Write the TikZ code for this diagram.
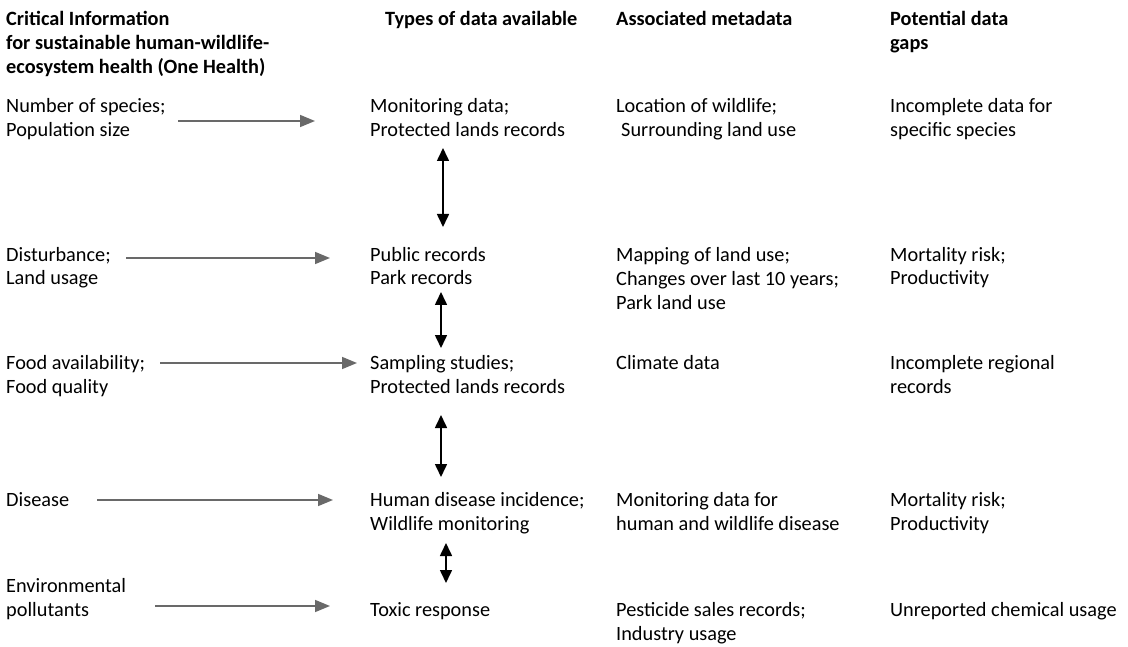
\documentclass[tikz,border=0pt]{standalone}
\usepackage{fontspec}
\setmainfont{Carlito}
\usetikzlibrary{arrows.meta}
\definecolor{flowGray}{RGB}{105,105,105}
\tikzset{
  txt/.style={anchor=base west, align=left, inner sep=0pt, font=\fontsize{20.3}{24}\selectfont},
  head/.style={txt, font=\fontsize{20.3}{24}\selectfont\bfseries},
  flow/.style={draw=flowGray, line width=1.6pt, -{Triangle[length=15pt,width=12pt]}},
  link/.style={draw=black, line width=1.6pt, {Triangle[length=13pt,width=12pt]}-{Triangle[length=13pt,width=12pt]}},
}

\begin{document}
\begin{tikzpicture}[x=1pt,y=-1pt]
\useasboundingbox (0,0) rectangle (1128,647);

% column headings (placed at the baseline of their last line)
\node [head] (headInfo) at (6,74) {Critical Information\\for sustainable human-wildlife-\\ecosystem health (One Health)};
\node [head] (headTypes) at (385,26) {Types of data available};
\node [head] (headMeta) at (616,26) {Associated metadata};
\node [head] (headGaps) at (890,50) {Potential data\\gaps};

% species
\node [txt] (infoSpecies) at (6,137) {Number of species;\\Population size};
\node [txt] (typeSpecies) at (370,137) {Monitoring data;\\Protected lands records};
\node [txt] (metaSpecies) at (616,137) {Location of wildlife;\\\hspace{5pt}Surrounding land use};
\node [txt] (gapSpecies) at (890,137) {Incomplete data for\\specific species};

% land
\node [txt] (infoLand) at (6,285) {Disturbance;\\Land usage};
\node [txt] (typeLand) at (370,285) {Public records\\Park records};
\node [txt] (metaLand) at (616,309) {Mapping of land use;\\Changes over last 10 years;\\Park land use};
\node [txt] (gapLand) at (890,285) {Mortality risk;\\Productivity};

% food
\node [txt] (infoFood) at (6,393) {Food availability;\\Food quality};
\node [txt] (typeFood) at (370,393) {Sampling studies;\\Protected lands records};
\node [txt] (metaFood) at (616,369) {Climate data};
\node [txt] (gapFood) at (890,393) {Incomplete regional\\records};

% disease
\node [txt] (infoDisease) at (6,506) {Disease};
\node [txt] (typeDisease) at (370,530) {Human disease incidence;\\Wildlife monitoring};
\node [txt] (metaDisease) at (616,530) {Monitoring data for\\human and wildlife disease};
\node [txt] (gapDisease) at (890,530) {Mortality risk;\\Productivity};

% pollutants
\node [txt] (infoToxic) at (6,616) {Environmental\\pollutants};
\node [txt] (typeToxic) at (370,616) {Toxic response};
\node [txt] (metaToxic) at (616,640) {Pesticide sales records;\\Industry usage};
\node [txt] (gapToxic) at (890,616) {Unreported chemical usage};

% arrow ends
\coordinate (fromSpecies) at (178,121);
\coordinate (toSpecies) at (315,121);
\coordinate (fromLand) at (126,258);
\coordinate (toLand) at (330,258);
\coordinate (fromFood) at (160,363);
\coordinate (toFood) at (357,363);
\coordinate (fromDisease) at (97,500);
\coordinate (toDisease) at (333,500);
\coordinate (fromToxic) at (155,606);
\coordinate (toToxic) at (330,606);

\coordinate (linkA1) at (443,148);
\coordinate (linkA2) at (443,227);
\coordinate (linkB1) at (441,292);
\coordinate (linkB2) at (441,348);
\coordinate (linkC1) at (441,415);
\coordinate (linkC2) at (441,477);
\coordinate (linkD1) at (446,543);
\coordinate (linkD2) at (446,583);

\draw [flow] (fromSpecies) -- (toSpecies);
\draw [flow] (fromLand) -- (toLand);
\draw [flow] (fromFood) -- (toFood);
\draw [flow] (fromDisease) -- (toDisease);
\draw [flow] (fromToxic) -- (toToxic);

\draw [link] (linkA1) -- (linkA2);
\draw [link] (linkB1) -- (linkB2);
\draw [link] (linkC1) -- (linkC2);
\draw [link] (linkD1) -- (linkD2);
\end{tikzpicture}
\end{document}
